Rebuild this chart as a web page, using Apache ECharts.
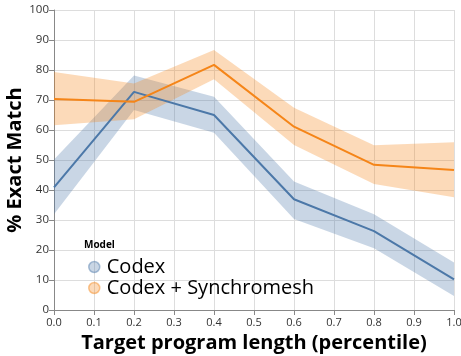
<!DOCTYPE html>
<html>
<head>
<meta charset="utf-8">
<script src="https://cdn.jsdelivr.net/npm/echarts@6/dist/echarts.min.js"></script>
<style>
  html, body { margin: 0; padding: 0; background: #fff; }
  #chart { width: 461px; height: 356px; }
</style>
</head>
<body>
<div id="chart"></div>
<script>
// x positions (percentile of target program length)
const xs = [0.0, 0.2, 0.4, 0.6, 0.8, 1.0]

// Codex
const codexMean = [40.9, 72.7, 65.0, 36.9, 26.3, 10.2]
const codexLow = [31.9, 66.7, 59.1, 30.3, 20.6, 4.7]
const codexHigh = [50.2, 78.2, 71.1, 42.8, 31.9, 15.8]

// Codex + Synchromesh
const syncMean = [70.3, 69.4, 81.7, 61.1, 48.4, 46.7]
const syncLow = [61.6, 63.6, 76.9, 55.0, 42.0, 37.6]
const syncHigh = [79.3, 75.5, 86.7, 67.4, 54.9, 55.9]

const seriesNames = ['Codex', 'Codex + Synchromesh']
const colors = ['#4c78a8', '#f58518']
const fontFamily = '"Open Sans", "Noto Sans", sans-serif'

const pairs = (ys) => xs.map((x, i) => [x, ys[i]])

// confidence band drawn as one polygon through the axis scales
function band(lo, hi, color) {
  return {
    type: 'custom',
    data: xs.map((x, i) => [x, lo[i], hi[i]]),
    silent: true,
    z: 1,
    renderItem: (params, api) => {
      if (params.dataIndex !== 0) return null
      const top = xs.map((x, i) => api.coord([x, hi[i]]))
      const bottom = xs.map((x, i) => api.coord([x, lo[i]])).reverse()
      return {
        type: 'polygon',
        shape: { points: top.concat(bottom) },
        style: { fill: color, opacity: 0.3 }
      }
    },
    encode: { x: 0, y: [1, 2] }
  }
}

const chart = echarts.init(document.getElementById('chart'), null, { renderer: 'canvas' })

const option = {
  animation: false,
  textStyle: { fontFamily: fontFamily },
  grid: { left: 54, right: 7, top: 10, bottom: 46, outerBoundsMode: 'none', containLabel: false },
  title: {
    text: 'Model',
    left: 79,
    top: 235,
    textStyle: { fontSize: 10, fontWeight: 'bold', color: '#000', fontFamily: fontFamily }
  },
  legend: {
    orient: 'vertical',
    left: 83,
    top: 252,
    icon: 'circle',
    itemWidth: 11,
    itemHeight: 11,
    itemGap: 1,
    textStyle: { fontSize: 20, color: '#000', fontFamily: fontFamily, padding: [0, 0, 0, 2] },
    data: seriesNames.map((name, i) => ({
      name: name,
      itemStyle: {
        color: echarts.color.modifyAlpha(colors[i], 0.3),
        borderColor: echarts.color.modifyAlpha(colors[i], 0.45),
        borderWidth: 1.5
      }
    }))
  },
  xAxis: {
    type: 'value',
    min: 0,
    max: 1,
    interval: 0.1,
    name: 'Target program length (percentile)',
    nameLocation: 'middle',
    nameGap: 21,
    nameTextStyle: { fontSize: 20, fontWeight: 'bold', color: '#000', fontFamily: fontFamily },
    axisLine: { show: true, lineStyle: { color: '#888' } },
    axisTick: { show: true, length: 5, lineStyle: { color: '#888' } },
    axisLabel: {
      fontSize: 11, color: '#333', margin: 7,
      formatter: (v) => v.toFixed(1)
    },
    splitLine: { show: true, lineStyle: { color: '#ddd' } }
  },
  yAxis: {
    type: 'value',
    min: 0,
    max: 100,
    interval: 10,
    name: '% Exact Match',
    nameLocation: 'middle',
    nameGap: 29,
    nameMoveOverlap: false,
    nameTextStyle: { fontSize: 20, fontWeight: 'bold', color: '#000', fontFamily: fontFamily },
    axisLine: { show: true, lineStyle: { color: '#888' } },
    axisTick: { show: true, length: 5, lineStyle: { color: '#888' } },
    axisLabel: { fontSize: 11.5, color: '#333', margin: 5 },
    splitLine: { show: true, lineStyle: { color: '#ddd' } }
  },
  series: [
    band(codexLow, codexHigh, colors[0]),
    band(syncLow, syncHigh, colors[1]),
    {
      name: seriesNames[0],
      type: 'line',
      data: pairs(codexMean),
      symbol: 'none',
      lineStyle: { color: colors[0], width: 2 },
      itemStyle: { color: colors[0] },
      z: 3
    },
    {
      name: seriesNames[1],
      type: 'line',
      data: pairs(syncMean),
      symbol: 'none',
      lineStyle: { color: colors[1], width: 2 },
      itemStyle: { color: colors[1] },
      z: 3
    }
  ]
}

chart.setOption(option)
</script>
</body>
</html>
